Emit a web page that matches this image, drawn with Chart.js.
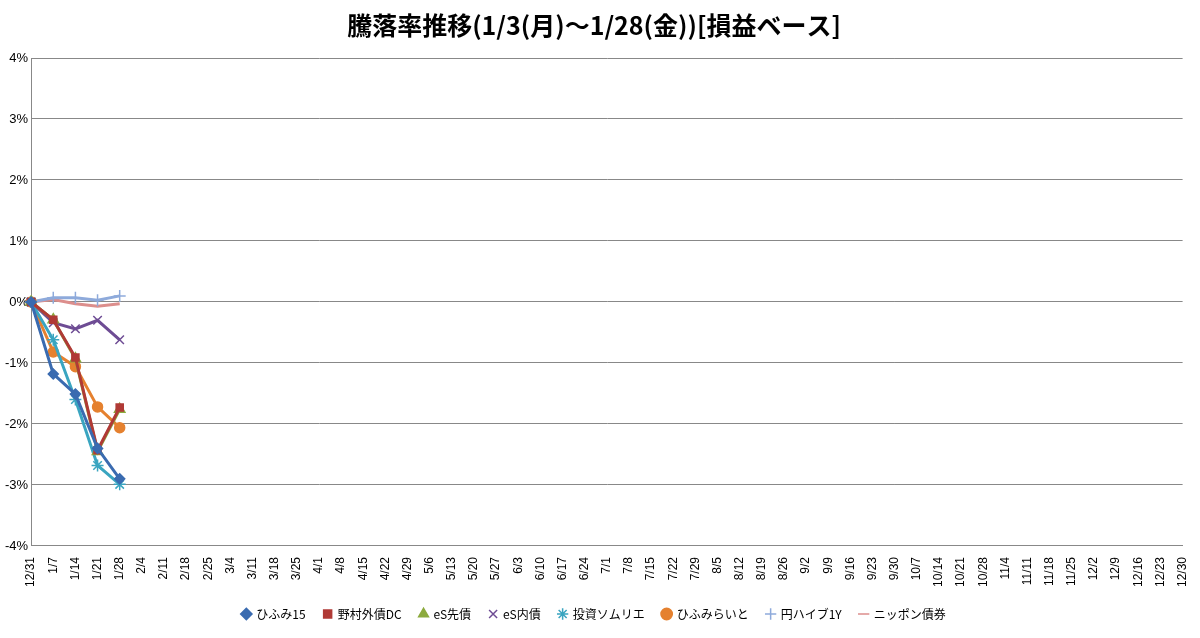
<!DOCTYPE html>
<html><head><meta charset="utf-8">
<script src="https://cdn.jsdelivr.net/npm/chart.js@4"></script>
<style>body{margin:0;background:#fff}canvas{display:block}</style>
</head><body><canvas id="c" width="1200" height="638"></canvas>
<script>
const labels=["12/31","1/7","1/14","1/21","1/28","2/4","2/11","2/18","2/25","3/4","3/11","3/18","3/25","4/1","4/8","4/15","4/22","4/29","5/6","5/13","5/20","5/27","6/3","6/10","6/17","6/24","7/1","7/8","7/15","7/22","7/29","8/5","8/12","8/19","8/26","9/2","9/9","9/16","9/23","9/30","10/7","10/14","10/21","10/28","11/4","11/11","11/18","11/25","12/2","12/9","12/16","12/23","12/30"];
const hifumi15=[0,-1.18,-1.51,-2.40,-2.90];
const nomura=[0,-0.29,-0.91,-2.43,-1.73];
const esSaki=[0,-0.29,-0.93,-2.45,-1.76];
const esNai=[0,-0.34,-0.44,-0.30,-0.62];
const sommelier=[0,-0.62,-1.60,-2.68,-2.99];
const hifumiRaito=[0,-0.82,-1.06,-1.72,-2.06];
const yenHigh=[0,0.07,0.07,0.03,0.10];
const nippon=[0,0.04,-0.03,-0.07,-0.03];
const series=[
 ["ひふみ15",hifumi15,"#3A6BB0","rectRot",5],
 ["野村外債DC",nomura,"#B03A36","rect",5],
 ["eS先債",esSaki,"#8CAA3E","triangle",6],
 ["eS内債",esNai,"#6E4C94","crossRot",6],
 ["投資ソムリエ",sommelier,"#3AA5C0","star",6],
 ["ひふみらいと",hifumiRaito,"#E5812F","circle",5],
 ["円ハイブ1Y",yenHigh,"#8EAADB","cross",6],
 ["ニッポン債券",nippon,"#DC8E8C","line",0]
];
new Chart(document.getElementById('c'),{type:'line',
data:{labels,datasets:series.map(s=>({label:s[0],data:s[1],borderColor:s[2],backgroundColor:s[2],pointStyle:s[3],pointRadius:s[4],borderWidth:3,pointBorderWidth:1.5,tension:0}))},
options:{responsive:false,animation:false,devicePixelRatio:1,
layout:{padding:{left:2,right:14,top:6,bottom:8}},
plugins:{title:{display:true,text:"騰落率推移(1/3(月)～1/28(金))[損益ベース]",font:{family:"Noto Sans CJK JP",size:25},color:"#000",padding:{top:4,bottom:18}},
legend:{position:'bottom',labels:{usePointStyle:true,boxWidth:8,boxHeight:8,font:{family:"Noto Sans CJK JP",size:12},color:"#000",padding:18}}},
scales:{x:{offset:false,ticks:{autoSkip:false,maxRotation:90,minRotation:90,font:{family:"Liberation Sans",size:12},color:"#000"},grid:{display:false},border:{color:'#888'}},
y:{min:-4,max:4,ticks:{stepSize:1,callback:v=>v+"%",font:{family:"Liberation Sans",size:13},color:"#000"},grid:{color:'#888',drawTicks:false},border:{color:'#888'}}}}});
</script></body></html>
